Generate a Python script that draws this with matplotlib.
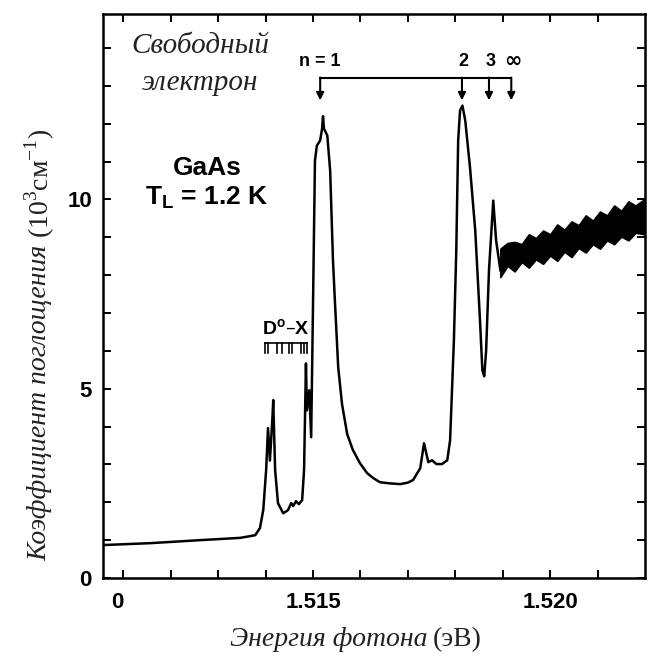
import matplotlib as mpl
mpl.use("Agg")
import matplotlib.pyplot as plt

# absorption spectrum of GaAs, T = 1.2 K (energy in eV, alpha in 10^3 cm^-1)
energy = [1.51057, 1.51156, 1.51262, 1.51346, 1.51378, 1.51388, 1.51395,
          1.51401, 1.51405, 1.51409, 1.51414, 1.51416, 1.51420, 1.51426,
          1.51437, 1.51447, 1.51454, 1.51458, 1.51464, 1.51470, 1.51477,
          1.51481, 1.51485, 1.51487, 1.51492, 1.51496, 1.51500, 1.51504,
          1.51508, 1.51515, 1.51519, 1.51521, 1.51523, 1.51530, 1.51536,
          1.51542, 1.51546, 1.51553, 1.51561, 1.51572, 1.51584, 1.51599,
          1.51614, 1.51627, 1.51641, 1.51662, 1.51684, 1.51700, 1.51711,
          1.51726, 1.51734, 1.51743, 1.51751, 1.51760, 1.51772, 1.51783,
          1.51789, 1.51797, 1.51802, 1.51806, 1.51810, 1.51815, 1.51821,
          1.51831, 1.51842, 1.51852, 1.51857, 1.51861, 1.51865, 1.51871,
          1.51880, 1.51886, 1.51895]
alpha = [0.87, 0.92, 1.00, 1.06, 1.13, 1.32, 1.80,
         2.85, 3.96, 3.10, 4.17, 4.70, 2.85, 1.98,
         1.71, 1.79, 1.98, 1.90, 2.03, 1.95, 2.06,
         2.85, 5.67, 4.43, 4.96, 3.72, 7.33, 11.03,
         11.42, 11.56, 11.87, 12.20, 11.87, 11.69, 10.77,
         8.39, 7.33, 5.57, 4.60, 3.80, 3.38, 3.03,
         2.77, 2.64, 2.53, 2.50, 2.48, 2.52, 2.59,
         2.90, 3.56, 3.06, 3.11, 3.01, 3.01, 3.11,
         3.64, 6.28, 8.65, 11.56, 12.35, 12.48, 12.08,
         10.84, 9.18, 6.81, 5.49, 5.33, 6.02, 8.13,
         9.97, 8.92, 8.13]

# noisy continuum above the band gap: lower / upper envelope
band_x = [1.51895, 1.51910, 1.51925, 1.51940, 1.51955, 1.51970, 1.51985,
          1.52000, 1.52015, 1.52030, 1.52045, 1.52060, 1.52075, 1.52090,
          1.52105, 1.52120, 1.52135, 1.52150, 1.52165, 1.52180, 1.52200]
band_lo = [7.95, 8.25, 8.10, 8.35, 8.20, 8.42, 8.30, 8.52, 8.38, 8.62, 8.48,
           8.72, 8.60, 8.82, 8.70, 8.92, 8.82, 9.02, 8.92, 9.12, 9.08]
band_hi = [8.70, 8.85, 8.88, 8.82, 9.08, 8.98, 9.18, 9.08, 9.34, 9.20, 9.42,
           9.32, 9.58, 9.44, 9.68, 9.58, 9.84, 9.70, 9.95, 9.84, 10.02]

# exciton series markers
series_x = [1.51515, 1.51814, 1.51871, 1.51918]
series_lab = ["n = 1", "2", "3", "\u221e"]
dx_comb = [1.51398, 1.51405, 1.51424, 1.51435, 1.51450, 1.51456,
           1.51475, 1.51481, 1.51488]

serif = "Liberation Serif"
sans = "Liberation Sans"

fig = plt.figure(figsize=(6.52, 6.62), dpi=100)
ax = fig.add_axes([103/652, 84/662, 542/652, 564/662])

ax.plot(energy, alpha, color="k", lw=1.8)
ax.fill_between(band_x, band_lo, band_hi, color="k", lw=1.2, edgecolor="k")

ax.set_xlim(1.51057, 1.52200)
ax.set_ylim(0, 14.9)

ax.set_xticks([1.51088, 1.515, 1.520])
ax.set_xticklabels(["0", "1.515", "1.520"])
ax.set_xticks([1.511, 1.512, 1.513, 1.514, 1.516, 1.517, 1.518, 1.519,
               1.521], minor=True)
ax.set_yticks([0, 5, 10])
ax.set_yticks([1, 2, 3, 4, 6, 7, 8, 9, 11, 12, 13, 14], minor=True)
ax.tick_params(which="both", direction="in", top=True, right=True,
               length=6, width=1.4, pad=8)
ax.tick_params(which="both", axis="x", pad=10)
t0 = ax.xaxis.get_major_ticks()[0]
t0.tick1line.set_visible(False)
t0.tick2line.set_visible(False)
for lab in ax.get_xticklabels() + ax.get_yticklabels():
    lab.set_fontfamily(sans)
    lab.set_fontweight("bold")
    lab.set_fontsize(16)
for s in ax.spines.values():
    s.set_linewidth(1.8)

# annotations
ax.text(1.51262, 14.06, "Свободный", family=serif, style="italic",
        fontsize=21, ha="center", va="center", color="#222222")
ax.text(1.51262, 13.09, "электрон", family=serif, style="italic",
        fontsize=21, ha="center", va="center", color="#222222")
ax.text(1.51276, 10.84, "GaAs", family=sans, fontweight="bold",
        fontsize=19, ha="center", va="center")
ax.text(1.51276, 10.05, "T$_\\mathregular{L}$ = 1.2 K", family=sans,
        fontweight="bold", fontsize=19, ha="center", va="center")

ax.plot([series_x[0], series_x[-1]], [13.22, 13.22], color="k", lw=1.5)
for x, lab in zip(series_x, series_lab):
    ax.annotate("", xy=(x, 12.62), xytext=(x, 13.22),
                arrowprops=dict(arrowstyle="-|>", color="k", lw=1.5,
                                mutation_scale=11, shrinkA=0, shrinkB=0))
    fs = 15 if lab == "\u221e" else 13
    ax.text(x + (0.00003 if lab != "n = 1" else 0.0), 13.65, lab,
            family=["DejaVu Sans"] if lab == "\u221e" else sans,
            fontweight="bold", fontsize=fs, ha="center", va="center")

ax.text(1.51443, 6.6, "D$^\\mathregular{o}$\u2013X", family=sans,
        fontweight="bold", fontsize=14, ha="center", va="center")
ax.plot([dx_comb[0], dx_comb[-1]], [6.2, 6.2], color="k", lw=1.2)
for x in dx_comb:
    ax.plot([x, x], [6.2, 5.95], color="k", lw=1.2)

# axis labels (italic part + upright part)
fig.text(427/652, 1 - 640/662, "Энергия фотона", family=serif,
         style="italic", fontsize=20, ha="right", va="center",
         color="#222222")
fig.text(433/652, 1 - 640/662, "(эВ)", family=serif, fontsize=20,
         ha="left", va="center", color="#222222")
fig.text(40/652, 1 - 245/662, "Коэффициент поглощения", family=serif,
         style="italic", fontsize=20, rotation=90, ha="center", va="top",
         color="#222222")
fig.text(40/652, 1 - 238/662, "(10$^\\mathregular{3}$см$^\\mathregular{-1}$)",
         family=serif, fontsize=20, rotation=90, ha="center", va="bottom",
         color="#222222")

plt.savefig("out.png", dpi=100)
